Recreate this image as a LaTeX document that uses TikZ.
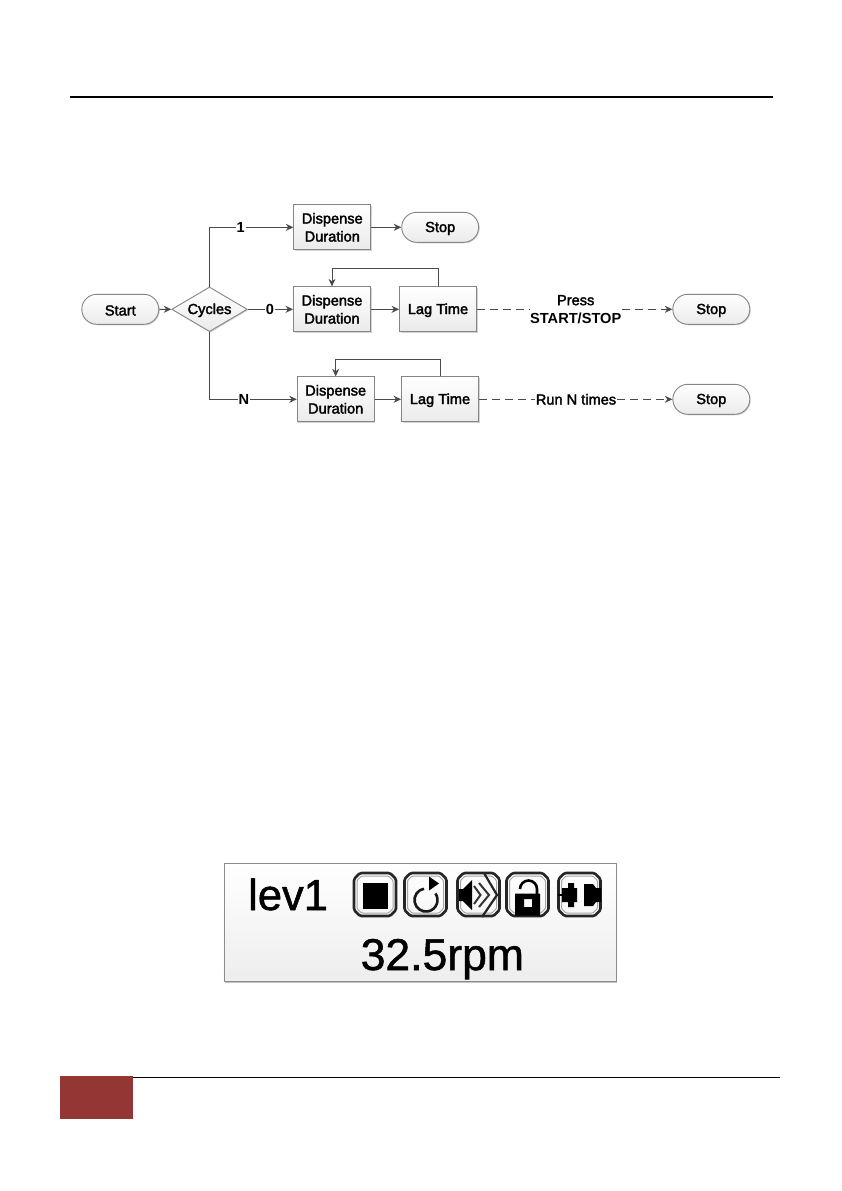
\documentclass[tikz,border=0pt]{standalone}
\usepackage{fontspec}
\setmainfont{Liberation Sans}
\newfontfamily\flowfont[FakeBold=2.2]{Liberation Sans}
\newfontfamily\heavyfont{Liberation Sans Bold}
\newfontfamily\lcdfont[FakeBold=1.2]{Liberation Sans}
\usetikzlibrary{shapes.geometric,shapes.misc,arrows.meta,shadows}
\definecolor{edgegray}{HTML}{4A4A4A}
\definecolor{boxedge}{HTML}{858585}
\definecolor{brick}{HTML}{943634}
\tikzset{
  x=1pt,y=-1pt,
  chart/.style={draw=boxedge,line width=0.9pt,top color=white,bottom color=black!8,inner sep=0pt,align=center,
    font=\fontsize{14.6}{18}\selectfont\flowfont,text=black,
    drop shadow={shadow xshift=1pt,shadow yshift=-1pt,opacity=.3,fill=black!55}},
  procbox/.style={chart,rectangle,minimum width=77pt,minimum height=45pt},
  singleline/.style={text height=12.5pt},
  term/.style={chart,singleline,rounded rectangle,minimum width=77pt,minimum height=30pt},
  choice/.style={chart,singleline,diamond,aspect=1.7,minimum width=75.6pt,minimum height=44.6pt},
  link/.style={draw=edgegray,line width=1pt},
  arrowhead/.style={-{Stealth[length=7.5pt,width=7pt]}},
  arrowlink/.style={link,arrowhead},
  dashlink/.style={link,dash pattern=on 8pt off 5pt},
  lab/.style={inner sep=0.8pt,fill=white,align=center,font=\fontsize{14.6}{18}\selectfont\flowfont,text=black},
  iconline/.style={draw=black!85,line width=2.6pt,line join=round,rounded corners=1.5pt},
  iconinner/.style={draw=black!35,line width=1pt,rounded corners=1pt},
  lcd/.style={draw=black!45,line width=0.8pt,rectangle,top color=white,bottom color=black!7,minimum width=392.7pt,minimum height=118.4pt,inner sep=0pt,
    drop shadow={shadow xshift=0.8pt,shadow yshift=-1pt,opacity=.4,fill=black!60}},
  lcdtext/.style={inner sep=0pt,text=black},
}
\begin{document}
\begin{tikzpicture}
\useasboundingbox (0,0) rectangle (842,1191);
\fill[white] (0,0) rectangle (842,1191);
% page furniture
\draw[black,line width=2pt] (70,97) -- (773,97);
\draw[black,line width=1pt] (133,1077) -- (780,1077);
\fill[brick] (60,1076) rectangle (133,1118.5);
% flow chart
\node[term] (start) at (120.3,309.3) {Start};
\node[choice] (cyc) at (209.5,309.3) {Cycles};
\node[procbox] (dd1) at (332.3,227.3) {Dispense\\Duration};
\node[term] (stop1) at (440.2,227.3) {Stop};
\node[procbox] (dd2) at (332,309.3) {Dispense\\Duration};
\node[procbox,singleline] (lag2) at (438,309.3) {Lag Time};
\node[term] (stop2) at (711.3,309.3) {Stop};
\node[procbox] (dd3) at (335.7,399.3) {Dispense\\Duration};
\node[procbox,singleline] (lag3) at (440,399.3) {Lag Time};
\node[term] (stop3) at (711.3,399.3) {Stop};
\node[lab] (l1) at (240.7,227.3) {\heavyfont 1};
\node[lab] (l0) at (270,309.3) {\heavyfont 0};
\node[lab] (ln) at (244,399.3) {\heavyfont N};
\node[lab] (press) at (575.7,309.3) {Press\\{\heavyfont START/STOP}};
\node[lab] (runn) at (576,399.3) {Run N times};
\coordinate (fb2a) at (438.3,268.7);
\coordinate (fb2b) at (332,268.7);
\coordinate (fb3a) at (440,359);
\coordinate (fb3b) at (335.7,359);
\draw[arrowlink] (start) -- (cyc);
\draw[link] (cyc.north) |- (l1);
\draw[arrowlink] (l1) -- (dd1);
\draw[arrowlink] (dd1) -- (stop1);
\draw[link] (cyc) -- (l0);
\draw[arrowlink] (l0) -- (dd2);
\draw[arrowlink] (dd2) -- (lag2);
\draw[link] (lag2.north -| fb2a) -- (fb2a) -- (fb2b);
\draw[arrowlink] (fb2b) -- (dd2.north);
\draw[dashlink] (lag2) -- (press);
\draw[dashlink,arrowhead] (press) -- (stop2);
\draw[link] (cyc.south) |- (ln);
\draw[arrowlink] (ln) -- (dd3);
\draw[arrowlink] (dd3) -- (lag3);
\draw[link] (lag3.north) -- (fb3a) -- (fb3b);
\draw[arrowlink] (fb3b) -- (dd3.north);
\draw[dashlink] (lag3) -- (runn);
\draw[dashlink,arrowhead] (runn) -- (stop3);
% LCD panel
\node[lcd] (panel) at (420.3,922.5) {};
\node[lcdtext,anchor=base west,font=\fontsize{43.5}{46}\selectfont\lcdfont] (levtext) at (248,910) {lev1};
\node[lcdtext,anchor=base west,font=\fontsize{44.5}{48}\selectfont\lcdfont] (rpmtext) at (360.5,970) {32.5rpm};
% icon frames
\foreach \cx in {375,425.5,478.5,527.5,579.5}{
  \draw[iconline,shift={(\cx,894.5)}] (-15,-21.5) -- (15,-21.5) -- (21,-15.5) -- (21,15.5) -- (15,21.5) -- (-15,21.5) -- (-21,15.5) -- (-21,-15.5) -- cycle;
  \draw[iconinner,shift={(\cx,894.5)}] (-13.5,-18.5) -- (13.5,-18.5) -- (18,-14) -- (18,14) -- (13.5,18.5) -- (-13.5,18.5) -- (-18,14) -- (-18,-14) -- cycle;
}
% stop
\fill[black] (363,883) rectangle (388,908.5);
% repeat
\draw[black!90,line width=2.6pt] (424,888.7) arc[start angle=-100,end angle=-395,radius=11.5];
\fill[black] (429,876.5) -- (439,883.5) -- (429,890.5) -- cycle;
% sound
\fill[black] (459,889) -- (463,889) -- (472,880) -- (472,910) -- (463,901) -- (459,901) -- cycle;
\draw[black!80,line width=2pt] (474,886) -- (480.5,895) -- (474,904);
\draw[black!80,line width=2pt] (479,883) -- (489,895) -- (479,907);
\draw[black!85,line width=2.2pt] (484,873) -- (497,895) -- (482,917);
% lock
\fill[black,even odd rule] (515,893.5) rectangle (540,915.5) (524,899) rectangle (532,907);
\draw[black,line width=2.6pt] (520,889) arc[start angle=180,end angle=360,radius=8.5] -- (537,894);
% plugs
\fill[black] (562,888) -- (568,888) -- (568,883) -- (574,883) -- (574,888) -- (577,888) -- (577,902) -- (574,902) -- (574,907) -- (568,907) -- (568,902) -- (562,902) -- cycle;
\fill[black] (584,884) -- (593,884) -- (596,888) -- (601,888) -- (601,902) -- (596,902) -- (593,906) -- (584,906) -- cycle;
\draw[black,line width=2.6pt] (558,895) -- (562,895);
\end{tikzpicture}
\end{document}
